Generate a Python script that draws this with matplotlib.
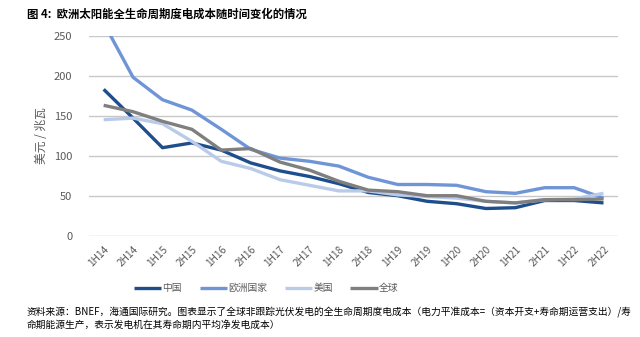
import matplotlib.pyplot as plt

plt.rcParams['font.family'] = ['Noto Sans CJK SC', 'DejaVu Sans']

periods = ['1H14', '2H14', '1H15', '2H15', '1H16', '2H16', '1H17', '2H17', '1H18',
           '2H18', '1H19', '2H19', '1H20', '2H20', '1H21', '2H21', '1H22', '2H22']
china = [183, 147, 110, 116, 107, 91, 81, 74, 65, 54, 50, 43, 40, 34, 35, 44, 44, 41]
europe = [266, 198, 170, 157, 133, 108, 97, 93, 87, 73, 64, 64, 63, 55, 53, 60, 60, 47]
usa = [145, 147, 140, 118, 93, 84, 70, 63, 56, 56, 51, 49, 47, 43, 41, 45, 46, 53]
world = [163, 155, 143, 133, 107, 109, 92, 82, 68, 57, 55, 50, 50, 43, 41, 45, 45, 46]

series = [('中国', china, '#1f4e8c'),
          ('欧洲国家', europe, '#6f95d6'),
          ('美国', usa, '#b9cbe9'),
          ('全球', world, '#7f7f7f')]

fig = plt.figure(figsize=(6.4, 3.37), dpi=100)
ax = fig.add_axes([0.139, 0.3006, 0.827, 0.5934])

x = list(range(len(periods)))
for name, vals, col in series:
    ax.plot(x, vals, color=col, lw=2.4, label=name, solid_capstyle='butt')

ax.set_xlim(-0.5, 17.5)
ax.set_ylim(0, 250)
ax.set_yticks(range(0, 251, 50))
ax.set_xticks(x)
ax.set_xticklabels(periods, rotation=45, ha='right', rotation_mode='anchor')
ax.grid(axis='y', color='#c8c8c8', lw=1)
ax.set_axisbelow(True)
for s in ax.spines.values():
    s.set_visible(False)
ax.tick_params(axis='both', length=0, colors='#595959')
ax.tick_params(axis='y', labelsize=8, pad=12)
ax.tick_params(axis='x', labelsize=7.3, pad=6)
ax.set_ylabel('美元 / 兆瓦', color='#595959', fontsize=8.5, labelpad=4)

leg = fig.legend(loc='center', bbox_to_anchor=(0.416, 0.145), ncol=4, frameon=False,
                 fontsize=7, handlelength=2.8, columnspacing=1.8, handletextpad=0.15)
for t in leg.get_texts():
    t.set_color('#595959')

fig.text(0.042, 0.958, '图 4:  欧洲太阳能全生命周期度电成本随时间变化的情况',
         fontsize=8.2, fontweight='bold', va='center')
fig.text(0.042, 0.077,
         '资料来源：BNEF，海通国际研究。图表显示了全球非跟踪光伏发电的全生命周期度电成本（电力平准成本=（资本开支+寿命期运营支出）/寿',
         fontsize=7, va='center')
fig.text(0.042, 0.035, '命期能源生产，表示发电机在其寿命期内平均净发电成本）',
         fontsize=7, va='center')

fig.savefig('out.png', dpi=100)
